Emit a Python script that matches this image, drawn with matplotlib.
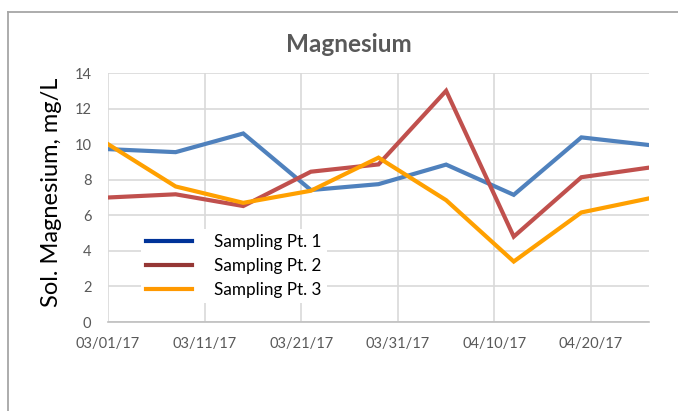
import matplotlib
matplotlib.use("Agg")
import matplotlib.pyplot as plt
import matplotlib.dates as mdates
from matplotlib.lines import Line2D
import datetime as dt

# ---- data ----
dates = ["2017-03-01", "2017-03-08", "2017-03-15", "2017-03-22", "2017-03-29",
         "2017-04-05", "2017-04-12", "2017-04-19", "2017-04-26"]
pt1 = [9.72, 9.55, 10.6, 7.42, 7.75, 8.85, 7.15, 10.38, 9.95]
pt2 = [7.0, 7.18, 6.52, 8.45, 8.86, 13.0, 4.8, 8.14, 8.68]
pt3 = [10.0, 7.62, 6.7, 7.38, 9.24, 6.85, 3.4, 6.16, 6.95]
series_names = ["Sampling Pt. 1", "Sampling Pt. 2", "Sampling Pt. 3"]
title = "Magnesium"
ylabel = "Sol. Magnesium, mg/L"
yticks = [0, 2, 4, 6, 8, 10, 12, 14]
x_start = "2017-03-01"
x_end = "2017-04-26"

line_colors = ["#4F81BD", "#C0504D", "#FFA000"]
handle_colors = ["#003399", "#953735", "#FF9900"]

plt.rcParams['font.family'] = ['Lato', 'DejaVu Sans']

W, H = 678, 411
fig = plt.figure(figsize=(W / 100, H / 100), dpi=100)
fig.patch.set_facecolor("white")

def fx(px):
    return px / W

def fy(py):
    return 1 - py / H

# chart outer border (cropped chart area)
fig.add_artist(Line2D([fx(8), fx(8)], [fy(12), fy(420)], color="#A6A6A6", lw=1.3,
                      transform=fig.transFigure))
fig.add_artist(Line2D([fx(8), fx(700)], [fy(12), fy(12)], color="#A6A6A6", lw=1.3,
                      transform=fig.transFigure))

ax = fig.add_axes([fx(108), fy(322), fx(649) - fx(108), fy(73) - fy(322)])

x = [dt.datetime.strptime(d, "%Y-%m-%d") for d in dates]
for vals, c in zip([pt1, pt2, pt3], line_colors):
    ax.plot(x, vals, color=c, lw=3.0, solid_joinstyle="miter", zorder=3)

ax.set_xlim(dt.datetime.strptime(x_start, "%Y-%m-%d"), dt.datetime.strptime(x_end, "%Y-%m-%d"))
ax.set_ylim(0, 14)
ax.set_yticks(yticks)
ticks = [dt.datetime(2017, 3, 1) + dt.timedelta(days=10 * i) for i in range(6)]
ax.set_xticks(ticks)
ax.xaxis.set_major_formatter(mdates.DateFormatter("%m/%d/%y"))

ax.grid(True, color="#D9D9D9", lw=1.2, zorder=0)
ax.set_axisbelow(True)
for s in ["top", "right", "left"]:
    ax.spines[s].set_visible(False)
ax.spines["bottom"].set_color("#BFBFBF")
ax.spines["bottom"].set_linewidth(1.2)
ax.tick_params(axis="both", length=0, labelcolor="#595959", labelsize=10.5)
ax.tick_params(axis="y", pad=12)
ax.tick_params(axis="x", pad=11)

fig.text(fx(349), fy(44), title, ha="center", va="center", fontsize=17.5,
         fontweight="bold", color="#595959")
fig.text(fx(52), fy(192), ylabel, ha="center", va="center", rotation=90,
         fontsize=17, color="black")

handles = [Line2D([0], [0], color=c, lw=3.0) for c in handle_colors]
leg = fig.legend(handles, series_names, loc="upper left",
                 bbox_to_anchor=(fx(141), fy(229)), bbox_transform=fig.transFigure,
                 frameon=True, fontsize=12.3, handlelength=2.7, handletextpad=1.3,
                 labelspacing=0.45, borderpad=0.3, borderaxespad=0)
leg.get_frame().set_facecolor("white")
leg.get_frame().set_edgecolor("none")
leg.get_frame().set_alpha(1)
for t in leg.get_texts():
    t.set_color("black")

fig.savefig("out.png", dpi=100, facecolor="white")
